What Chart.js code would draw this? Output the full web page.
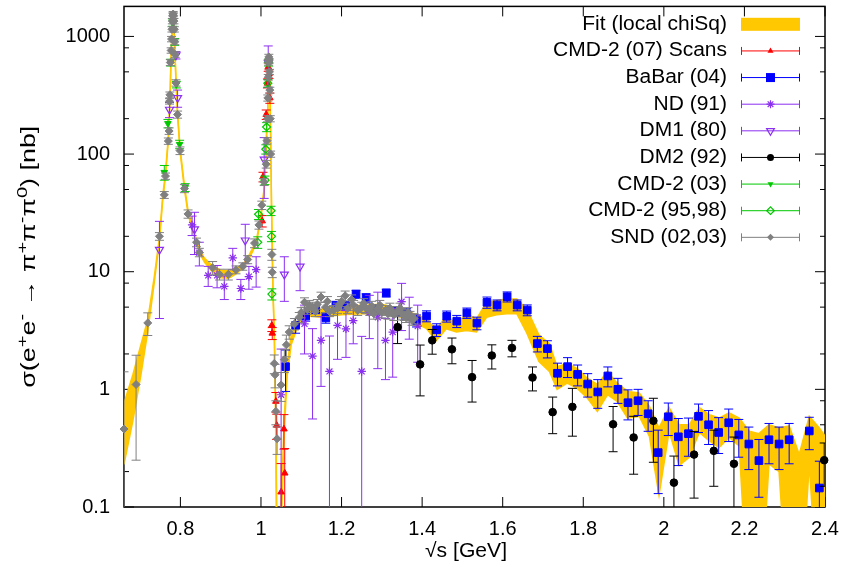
<!DOCTYPE html>
<html><head><meta charset="utf-8">
<script src="https://cdn.jsdelivr.net/npm/chart.js@4.4.0/dist/chart.umd.min.js"></script>
<style>html,body{margin:0;padding:0;background:#fff}canvas{display:block}</style>
</head><body>
<canvas id="c" width="846" height="575"></canvas>
<script>
// ---------- tick labels ----------
const xTicks = [0.8, 1, 1.2, 1.4, 1.6, 1.8, 2, 2.2, 2.4];
const yTicks = [0.1, 1, 10, 100, 1000];
const yMinorTicks = [0.2, 0.5, 0.8, 2, 5, 8, 20, 50, 80, 200, 500, 800];

// ---------- Fit band (local chiSq) ----------
const fitX  = [0.660,0.682,0.702,0.719,0.735,0.748,0.756,0.763,0.770,0.774,0.777,0.780,0.782,0.785,0.789,0.793,0.799,0.810,0.819,0.829,0.840,0.847,0.860,0.880,0.900,0.920,0.940,0.955,0.967,0.980,0.990,1.000,1.008,1.012,1.015,1.017,1.0195,1.022,1.024,1.026,1.028,1.030,1.033,1.036,1.040,1.045,1.050,1.058,1.065,1.075,1.088,1.100,1.120,1.150,1.200,1.250,1.300,1.350,1.380,1.410,1.435,1.460,1.485,1.510,1.535,1.560,1.585,1.610,1.635,1.660,1.690,1.716,1.735,1.760,1.785,1.810,1.835,1.860,1.884,1.910,1.939,1.964,1.988,2.013,2.038,2.063,2.088,2.113,2.137,2.162,2.187,2.212,2.236,2.261,2.286,2.311,2.336,2.361,2.386,2.400];
const fitLo = [0.23,0.54,1.33,3.1,8.0,18.3,40,65,130,270,680,1160,1500,960,405,212,106,50,31,23.2,17.4,14.5,12.0,9.9,8.9,8.8,9.7,10.7,12.3,15.0,18.4,29,48,87,195,480,680,440,145,39,14.5,6.3,2.9,0.75,0.01,0.01,0.06,0.45,1.3,2.4,3.2,3.9,4.2,4.1,4.3,4.4,4.4,4.1,3.7,3.3,2.6,3.27,3.07,3.17,3.07,4.1,4.3,4.4,4.4,3.0,1.72,1.42,1.0,1.13,1.02,0.845,0.65,0.9,0.79,0.57,0.59,0.40,0.126,0.44,0.225,0.265,0.43,0.365,0.32,0.39,0.33,0.01,0.01,0.233,0.2,0.01,0.01,0.233,0.01,0.01];
const fitHi = [0.76,1.33,2.4,3.9,9.0,19.7,44,70,140,290,720,1240,1600,1040,435,228,114,54,33,24.8,18.6,15.5,13.0,11.2,10.3,10.2,10.8,11.5,13.1,16.0,19.6,31,52,93,205,520,720,470,155,41,15.5,6.7,3.1,0.85,0.06,0.04,0.10,0.6,1.6,2.9,3.7,4.4,4.8,4.8,5.1,5.2,5.3,4.8,4.4,4.0,3.2,4.26,3.6,4.4,3.97,5.5,5.7,5.85,5.85,4.8,2.9,2.45,1.56,1.66,1.5,1.24,1.1,1.42,1.13,0.96,0.93,0.72,0.47,0.70,0.5,0.5,0.7,0.61,0.57,0.63,0.57,0.44,0.42,0.5,0.47,0.49,0.28,0.59,0.47,0.4];

// ---------- CMD-2 (07) Scans ----------
const c07X   = [1.003,1.005,1.013,1.016,1.018,1.020,1.022,1.027,1.028,1.037,1.039,1.050,1.057,1.059];
const c07Y   = [27,64,217,400,550,480,300,3.5,3.0,0.79,0.495,0.134,0.46,0.194];
const c07Err = [3,6,20,35,45,40,30,0.4,0.35,0.15,0.12,0.1,0.15,0.12];

// ---------- BaBar (04) ----------
const bbX   = [1.061,1.086,1.111,1.136,1.161,1.186,1.211,1.236,1.261,1.286,1.311,1.336,1.361,1.386,1.411,1.436,1.461,1.486,1.511,1.536,1.561,1.586,1.611,1.636,1.661,1.686,1.711,1.736,1.761,1.786,1.811,1.836,1.861,1.886,1.911,1.936,1.961,1.986,2.011,2.036,2.061,2.086,2.111,2.136,2.161,2.186,2.211,2.236,2.261,2.286,2.311,2.361,2.386];
const bbY   = [1.56,3.5,4.2,4.8,4.05,5.15,5.15,6.45,6.0,4.8,6.6,4.6,4.4,3.84,4.2,3.21,4.18,3.8,4.46,3.66,5.49,5.2,6.13,5.2,4.72,2.45,2.22,1.37,1.56,1.34,1.11,0.95,1.30,1.0,0.77,0.80,0.62,0.29,0.585,0.395,0.42,0.59,0.50,0.43,0.52,0.41,0.343,0.248,0.373,0.343,0.373,0.443,0.145];
const bbErr = [0.6,0.5,0.4,0.4,0.4,0.45,0.45,0.5,0.5,0.45,0.5,0.45,0.45,0.45,0.45,0.4,0.45,0.45,0.45,0.45,0.6,0.55,0.6,0.55,0.5,0.37,0.37,0.3,0.3,0.27,0.25,0.26,0.25,0.24,0.22,0.2,0.18,0.16,0.18,0.17,0.15,0.16,0.16,0.145,0.16,0.145,0.135,0.127,0.14,0.135,0.14,0.136,0.1];

// ---------- ND (91) ----------
const ndX   = [0.829,0.847,0.869,0.891,0.909,0.930,0.950,0.970,0.988,1.050,1.108,1.128,1.149,1.170,1.190,1.211,1.229,1.250,1.269,1.290,1.309,1.327,1.349,1.368,1.389];
const ndY   = [25,14.5,9.3,9.3,7.5,13.1,7.2,9.1,10.4,0.9,3.6,1.92,2.61,1.42,3.5,3.27,3.84,1.42,4.5,4.1,2.61,3.07,5.56,4.37,3.45];
const ndErr = [4.7,3.3,1.8,2,1.7,2.7,1.4,2,3,1.3,1.6,1.36,1.55,1.42,1.7,1.4,1.4,1.4,1.8,2.6,1.4,1.8,2.4,1.7,1.75];

// ---------- DM1 (80) ----------
const dm1X   = [0.748,0.773,0.789,0.793,0.835,0.961,1.008,1.018,1.058,1.097];
const dm1Y   = [15.4,239,693,300,23,18.5,90,600,9.5,11.1];
const dm1Err = [11.4,35,50,50,9,6.8,48,230,3.9,4.2];

// ---------- DM2 (92) ----------
const dm2X   = [1.339,1.395,1.425,1.474,1.524,1.573,1.623,1.674,1.724,1.773,1.874,1.925,1.974,2.025,2.075,2.124,2.174,2.398];
const dm2Y   = [3.38,1.63,2.61,2.19,1.27,1.94,2.25,1.26,0.64,0.71,0.505,0.39,0.54,0.161,0.279,0.30,0.233,0.25];
const dm2Err = [0.93,0.75,0.62,0.54,0.49,0.45,0.36,0.29,0.22,0.31,0.21,0.2,0.3,0.11,0.16,0.15,0.16,0.1];

// ---------- CMD-2 (03) ----------
const c03X   = [0.760,0.769,0.776,0.781,0.786,0.790,0.798,0.812];
const c03Y   = [70,182,600,1300,900,390,121,52];
const c03Err = [10,15,40,80,60,25,10,4];

// ---------- CMD-2 (95,98) ----------
const c95X   = [0.992,0.994,1.010,1.012,1.014,1.017,1.019,1.025,1.026,1.027];
const c95Y   = [17.8,30.8,60,110,170,400,600,33,20,6.45];
const c95Err = [2,3,5,10,15,30,40,3,2,0.7];

// ---------- SND (02,03) ----------
const sndX   = [0.660,0.690,0.719,0.748,0.760,0.763,0.770,0.772,0.773,0.774,0.775,0.777,0.778,0.779,0.780,0.781,0.782,0.783,0.784,0.785,0.786,0.787,0.789,0.793,0.799,0.810,0.819,0.840,0.847,0.880,0.897,0.919,0.938,0.955,0.967,0.984,0.995,1.002,1.008,1.013,1.015,1.016,1.017,1.018,1.019,1.0195,1.020,1.021,1.022,1.023,1.024,1.027,1.028,1.033,1.035,1.037,1.040,1.050,1.058,1.063,1.070,1.083,1.095,
                1.100,1.108,1.115,1.120,1.128,1.135,1.140,1.149,1.160,1.165,1.170,1.180,1.190,1.195,1.200,1.209,1.215,1.225,1.230,1.240,1.250,1.255,1.260,1.270,1.275,1.280,1.290,1.295,1.300,1.310,1.315,1.320,1.325,1.330,1.340,1.345,1.350,1.355,1.360,1.365,1.370,1.375,1.380];
const sndY   = [0.46,1.1,3.67,20,45,65,129,157,281,319,600,760,950,1150,1350,1500,1550,1500,1350,1150,900,700,403,217,107,51,31,17.8,14.6,10.8,9.5,9.5,10.4,11.1,12.7,17.5,25,36.8,58,82,130,200,300,450,600,670,620,500,350,200,100,14,9.9,1.66,1.33,0.65,0.38,1.09,1.79,2.39,3.07,3.6,4.1,
                4.5,5.5,4.8,5.2,5.0,4.6,5.3,6.1,5.0,5.6,4.6,4.7,4.9,5.3,5.6,6.25,4.9,5.8,5.2,4.7,5.0,5.4,4.9,4.7,5.1,4.4,4.8,5.2,4.5,4.7,4.4,4.9,4.6,4.3,4.6,4.9,4.4,4.3,4.1,4.5,4.2,3.9,4.0];
const sndErr = [0.95,0.85,0.8,1.5,3,4,8,10,15,18,35,40,50,60,70,80,80,80,70,60,50,40,25,15,8,4,2.5,1.5,1.2,1.4,1.0,1.0,0.8,0.8,1.0,1.5,2,3,4,6,8,12,18,25,30,35,30,25,20,12,6,1.5,1.0,0.3,0.3,0.15,0.1,0.3,0.4,0.5,0.4,0.4,0.4,
                0.45,0.5,0.45,0.5,0.5,0.45,0.5,0.6,0.5,0.55,0.45,0.45,0.5,0.5,0.55,0.6,0.5,0.55,0.5,0.45,0.5,0.5,0.5,0.45,0.5,0.45,0.45,0.5,0.45,0.45,0.45,0.5,0.45,0.45,0.45,0.5,0.45,0.45,0.4,0.45,0.4,0.4,0.4];

// ---------- styling ----------
const FONT = "'Liberation Sans', Arial, Helvetica, sans-serif";
const GOLD = '#ffc800', RED = '#ff0000', BLUE = '#0000ff', VIOLET = '#8b2ff0',
      BLACK = '#000000', GREEN = '#00c800', GRAY = '#808080';

const pts = (xs, ys) => xs.map((x, i) => ({x: x, y: ys[i]}));
function series(label, xs, ys, errs, color, style, order) {
  return Object.assign({
    label: label, data: pts(xs, ys), err: errs, errColor: color,
    showLine: false, clip: 10, order: order,
    borderColor: color, backgroundColor: color, borderWidth: 1,
    pointHoverRadius: 0
  }, style);
}

const datasets = [
  {label: 'fitLo', data: pts(fitX, fitLo), showLine: true, pointRadius: 0, borderColor: GOLD,
   borderWidth: 1.5, tension: 0, fill: false, order: 20},
  {label: 'Fit (local chiSq)', data: pts(fitX, fitHi), showLine: true, pointRadius: 0, borderColor: GOLD,
   borderWidth: 1.5, tension: 0, fill: '-1', backgroundColor: GOLD, order: 19},
  series('CMD-2 (07) Scans', c07X, c07Y, c07Err, RED, {pointStyle: 'triangle', pointRadius: 3.8}, 9),
  series('BaBar (04)', bbX, bbY, bbErr, BLUE, {pointStyle: 'rect', pointRadius: 5.4}, 8),
  series('ND (91)', ndX, ndY, ndErr, VIOLET, {pointStyle: 'star', pointRadius: 4.2, borderWidth: 1.2}, 7),
  series('DM1 (80)', dm1X, dm1Y, dm1Err, VIOLET, {pointStyle: 'triangle', pointRotation: 180, pointRadius: 4.6,
         backgroundColor: 'rgba(0,0,0,0)', borderWidth: 1.2}, 6),
  series('DM2 (92)', dm2X, dm2Y, dm2Err, BLACK, {pointStyle: 'circle', pointRadius: 3.8}, 5),
  series('CMD-2 (03)', c03X, c03Y, c03Err, GREEN, {pointStyle: 'triangle', pointRotation: 180, pointRadius: 3.8}, 4),
  series('CMD-2 (95,98)', c95X, c95Y, c95Err, GREEN, {pointStyle: 'rectRot', pointRadius: 4,
         backgroundColor: 'rgba(0,0,0,0)', borderWidth: 1.2}, 3),
  series('SND (02,03)', sndX, sndY, sndErr, GRAY, {pointStyle: 'rectRot', pointRadius: 4}, 2)
];

// ---------- plugins ----------
const errorBarPlugin = {
  id: 'errbars',
  beforeDatasetDraw(chart, args) {
    const ds = chart.data.datasets[args.index];
    if (!ds.err) return;
    const ctx = chart.ctx, a = chart.chartArea, xs = chart.scales.x, ys = chart.scales.y;
    ctx.save();
    ctx.beginPath(); ctx.rect(a.left, a.top, a.right - a.left, a.bottom - a.top); ctx.clip();
    ctx.strokeStyle = ds.errColor; ctx.lineWidth = 1;
    ctx.beginPath();
    ds.data.forEach((p, i) => {
      const e = ds.err[i];
      const px = xs.getPixelForValue(p.x);
      const yt = ys.getPixelForValue(p.y + e);
      const lo = p.y - e;
      const yb = lo > 0 ? ys.getPixelForValue(lo) : a.bottom + 20;
      ctx.moveTo(px, yt); ctx.lineTo(px, yb);
      ctx.moveTo(px - 4.5, yt); ctx.lineTo(px + 4.5, yt);
      if (lo > 0) { ctx.moveTo(px - 4.5, yb); ctx.lineTo(px + 4.5, yb); }
    });
    ctx.stroke();
    ctx.restore();
  }
};

const framePlugin = {
  id: 'frame',
  beforeDatasetsDraw(chart) {
    const ctx = chart.ctx, a = chart.chartArea, x = chart.scales.x, y = chart.scales.y;
    ctx.save();
    ctx.strokeStyle = '#000'; ctx.lineWidth = 1;
    ctx.beginPath();
    xTicks.forEach(v => {
      const p = x.getPixelForValue(v);
      ctx.moveTo(p, a.bottom); ctx.lineTo(p, a.bottom - 10);
      ctx.moveTo(p, a.top); ctx.lineTo(p, a.top + 10);
    });
    yTicks.forEach(v => {
      const p = y.getPixelForValue(v);
      ctx.moveTo(a.left, p); ctx.lineTo(a.left + 10, p);
      ctx.moveTo(a.right, p); ctx.lineTo(a.right - 10, p);
    });
    yMinorTicks.forEach(v => {
      const p = y.getPixelForValue(v);
      ctx.moveTo(a.left, p); ctx.lineTo(a.left + 5, p);
      ctx.moveTo(a.right, p); ctx.lineTo(a.right - 5, p);
    });
    ctx.stroke();
    ctx.lineWidth = 1.5;
    ctx.strokeRect(a.left, a.top, a.right - a.left, a.bottom - a.top);
    ctx.restore();
  }
};

function marker(ctx, kind, filled, x, y, r, color) {
  ctx.save();
  ctx.fillStyle = color; ctx.strokeStyle = color; ctx.lineWidth = 1.2;
  ctx.beginPath();
  if (kind === 'triUp') {
    ctx.moveTo(x, y - r); ctx.lineTo(x + r * 0.866, y + r * 0.5); ctx.lineTo(x - r * 0.866, y + r * 0.5); ctx.closePath();
  } else if (kind === 'triDown') {
    ctx.moveTo(x, y + r); ctx.lineTo(x + r * 0.866, y - r * 0.5); ctx.lineTo(x - r * 0.866, y - r * 0.5); ctx.closePath();
  } else if (kind === 'square') {
    ctx.rect(x - r, y - r, 2 * r, 2 * r);
  } else if (kind === 'circle') {
    ctx.arc(x, y, r, 0, Math.PI * 2);
  } else if (kind === 'diamond') {
    ctx.moveTo(x, y - r); ctx.lineTo(x + r, y); ctx.lineTo(x, y + r); ctx.lineTo(x - r, y); ctx.closePath();
  } else if (kind === 'star') {
    const d = r * 0.7071;
    ctx.moveTo(x - r, y); ctx.lineTo(x + r, y); ctx.moveTo(x, y - r); ctx.lineTo(x, y + r);
    ctx.moveTo(x - d, y - d); ctx.lineTo(x + d, y + d); ctx.moveTo(x - d, y + d); ctx.lineTo(x + d, y - d);
    ctx.stroke(); ctx.restore(); return;
  }
  if (filled) ctx.fill(); else ctx.stroke();
  ctx.restore();
}

const legendItems = [
  {label: 'Fit (local chiSq)', band: true},
  {label: 'CMD-2 (07) Scans', color: RED, kind: 'triUp', filled: true, r: 3.5},
  {label: 'BaBar (04)', color: BLUE, kind: 'square', filled: true, r: 4.5},
  {label: 'ND (91)', color: VIOLET, kind: 'star', filled: false, r: 4},
  {label: 'DM1 (80)', color: VIOLET, kind: 'triDown', filled: false, r: 4.5},
  {label: 'DM2 (92)', color: BLACK, kind: 'circle', filled: true, r: 3.5},
  {label: 'CMD-2 (03)', color: GREEN, kind: 'triDown', filled: true, r: 3.5},
  {label: 'CMD-2 (95,98)', color: GREEN, kind: 'diamond', filled: false, r: 3.8},
  {label: 'SND (02,03)', color: GRAY, kind: 'diamond', filled: true, r: 3.5}
];

const legendPlugin = {
  id: 'gpLegend',
  afterDraw(chart) {
    const ctx = chart.ctx;
    ctx.save();
    ctx.font = '20px ' + FONT;
    ctx.textAlign = 'right'; ctx.textBaseline = 'middle'; ctx.fillStyle = '#000';
    legendItems.forEach((it, i) => {
      const y = 24.3 + 26.63 * i;
      ctx.save(); ctx.translate(727, y); ctx.scale(1.05, 1); ctx.fillText(it.label, 0, 0); ctx.restore();
      if (it.band) {
        ctx.fillStyle = GOLD; ctx.fillRect(741, y - 6.5, 59, 13); ctx.fillStyle = '#000';
      } else {
        ctx.save(); ctx.strokeStyle = it.color; ctx.lineWidth = 1;
        ctx.beginPath();
        ctx.moveTo(741, y); ctx.lineTo(800, y);
        ctx.moveTo(741.5, y - 4); ctx.lineTo(741.5, y + 4);
        ctx.moveTo(799.5, y - 4); ctx.lineTo(799.5, y + 4);
        ctx.stroke(); ctx.restore();
        marker(ctx, it.kind, it.filled, 770.5, y, it.r, it.color);
      }
    });
    ctx.restore();
  }
};

// axis titles with real superscripts (gnuplot enhanced-text look)
const yTitleParts = [['\u03c3(e', 0], ['+', 1], ['e', 0], ['-', 1], [' \u2192 ', 0], ['\u03c0', 0], ['+', 1],
                     ['\u03c0', 0], ['-', 1], ['\u03c0', 0], ['0', 1], [') [nb]', 0]];
const xTitleParts = [['\u221as [GeV]', 0]];
function drawRich(ctx, parts, cx, cy, rot, target) {
  const fN = '20px ' + FONT, fS = '15px ' + FONT;
  let w = 0;
  parts.forEach(p => { ctx.font = p[1] ? fS : fN; w += ctx.measureText(p[0]).width; });
  const k = target ? target / w : 1;
  ctx.save();
  ctx.translate(cx, cy); ctx.rotate(rot); ctx.scale(k, 1);
  ctx.fillStyle = '#000'; ctx.textAlign = 'left'; ctx.textBaseline = 'alphabetic';
  let x = -w / 2;
  parts.forEach(p => {
    ctx.font = p[1] ? fS : fN;
    ctx.fillText(p[0], x, p[1] ? -1 : 7);
    x += ctx.measureText(p[0]).width;
  });
  ctx.restore();
}
const titlePlugin = {
  id: 'titles',
  afterDraw(chart) {
    const ctx = chart.ctx, a = chart.chartArea;
    drawRich(ctx, yTitleParts, 28, (a.top + a.bottom) / 2, -Math.PI / 2, 262);
    drawRich(ctx, xTitleParts, 466, 550, 0, 82);
  }
};

// ---------- chart ----------
new Chart(document.getElementById('c').getContext('2d'), {
  type: 'scatter',
  data: {datasets: datasets},
  options: {
    responsive: false, animation: false, devicePixelRatio: 1,
    layout: {padding: {left: 0, right: 21, top: 1, bottom: 0}},
    plugins: {legend: {display: false}, tooltip: {enabled: false}},
    events: [],
    scales: {
      x: {
        type: 'linear', min: 0.66, max: 2.4,
        afterBuildTicks: s => { s.ticks = xTicks.map(v => ({value: v})); },
        afterFit: s => { s.height = 68; s.paddingLeft = 0; s.paddingRight = 0; },
        grid: {display: false, drawTicks: false}, border: {display: false},
        ticks: {font: {family: FONT, size: 20}, color: '#000', padding: 10, maxRotation: 0, autoSkip: false,
                callback: v => String(v)},
        title: {display: false}
      },
      y: {
        type: 'logarithmic', min: 0.1, max: 1800,
        afterBuildTicks: s => { s.ticks = yTicks.map(v => ({value: v})); },
        afterFit: s => { s.width = 124; s.paddingTop = 0; s.paddingBottom = 0; },
        grid: {display: false, drawTicks: false}, border: {display: false},
        ticks: {font: {family: FONT, size: 20}, color: '#000', padding: 14, autoSkip: false,
                callback: v => String(v)},
        title: {display: false}
      }
    }
  },
  plugins: [framePlugin, errorBarPlugin, legendPlugin, titlePlugin]
});
</script>
</body></html>
